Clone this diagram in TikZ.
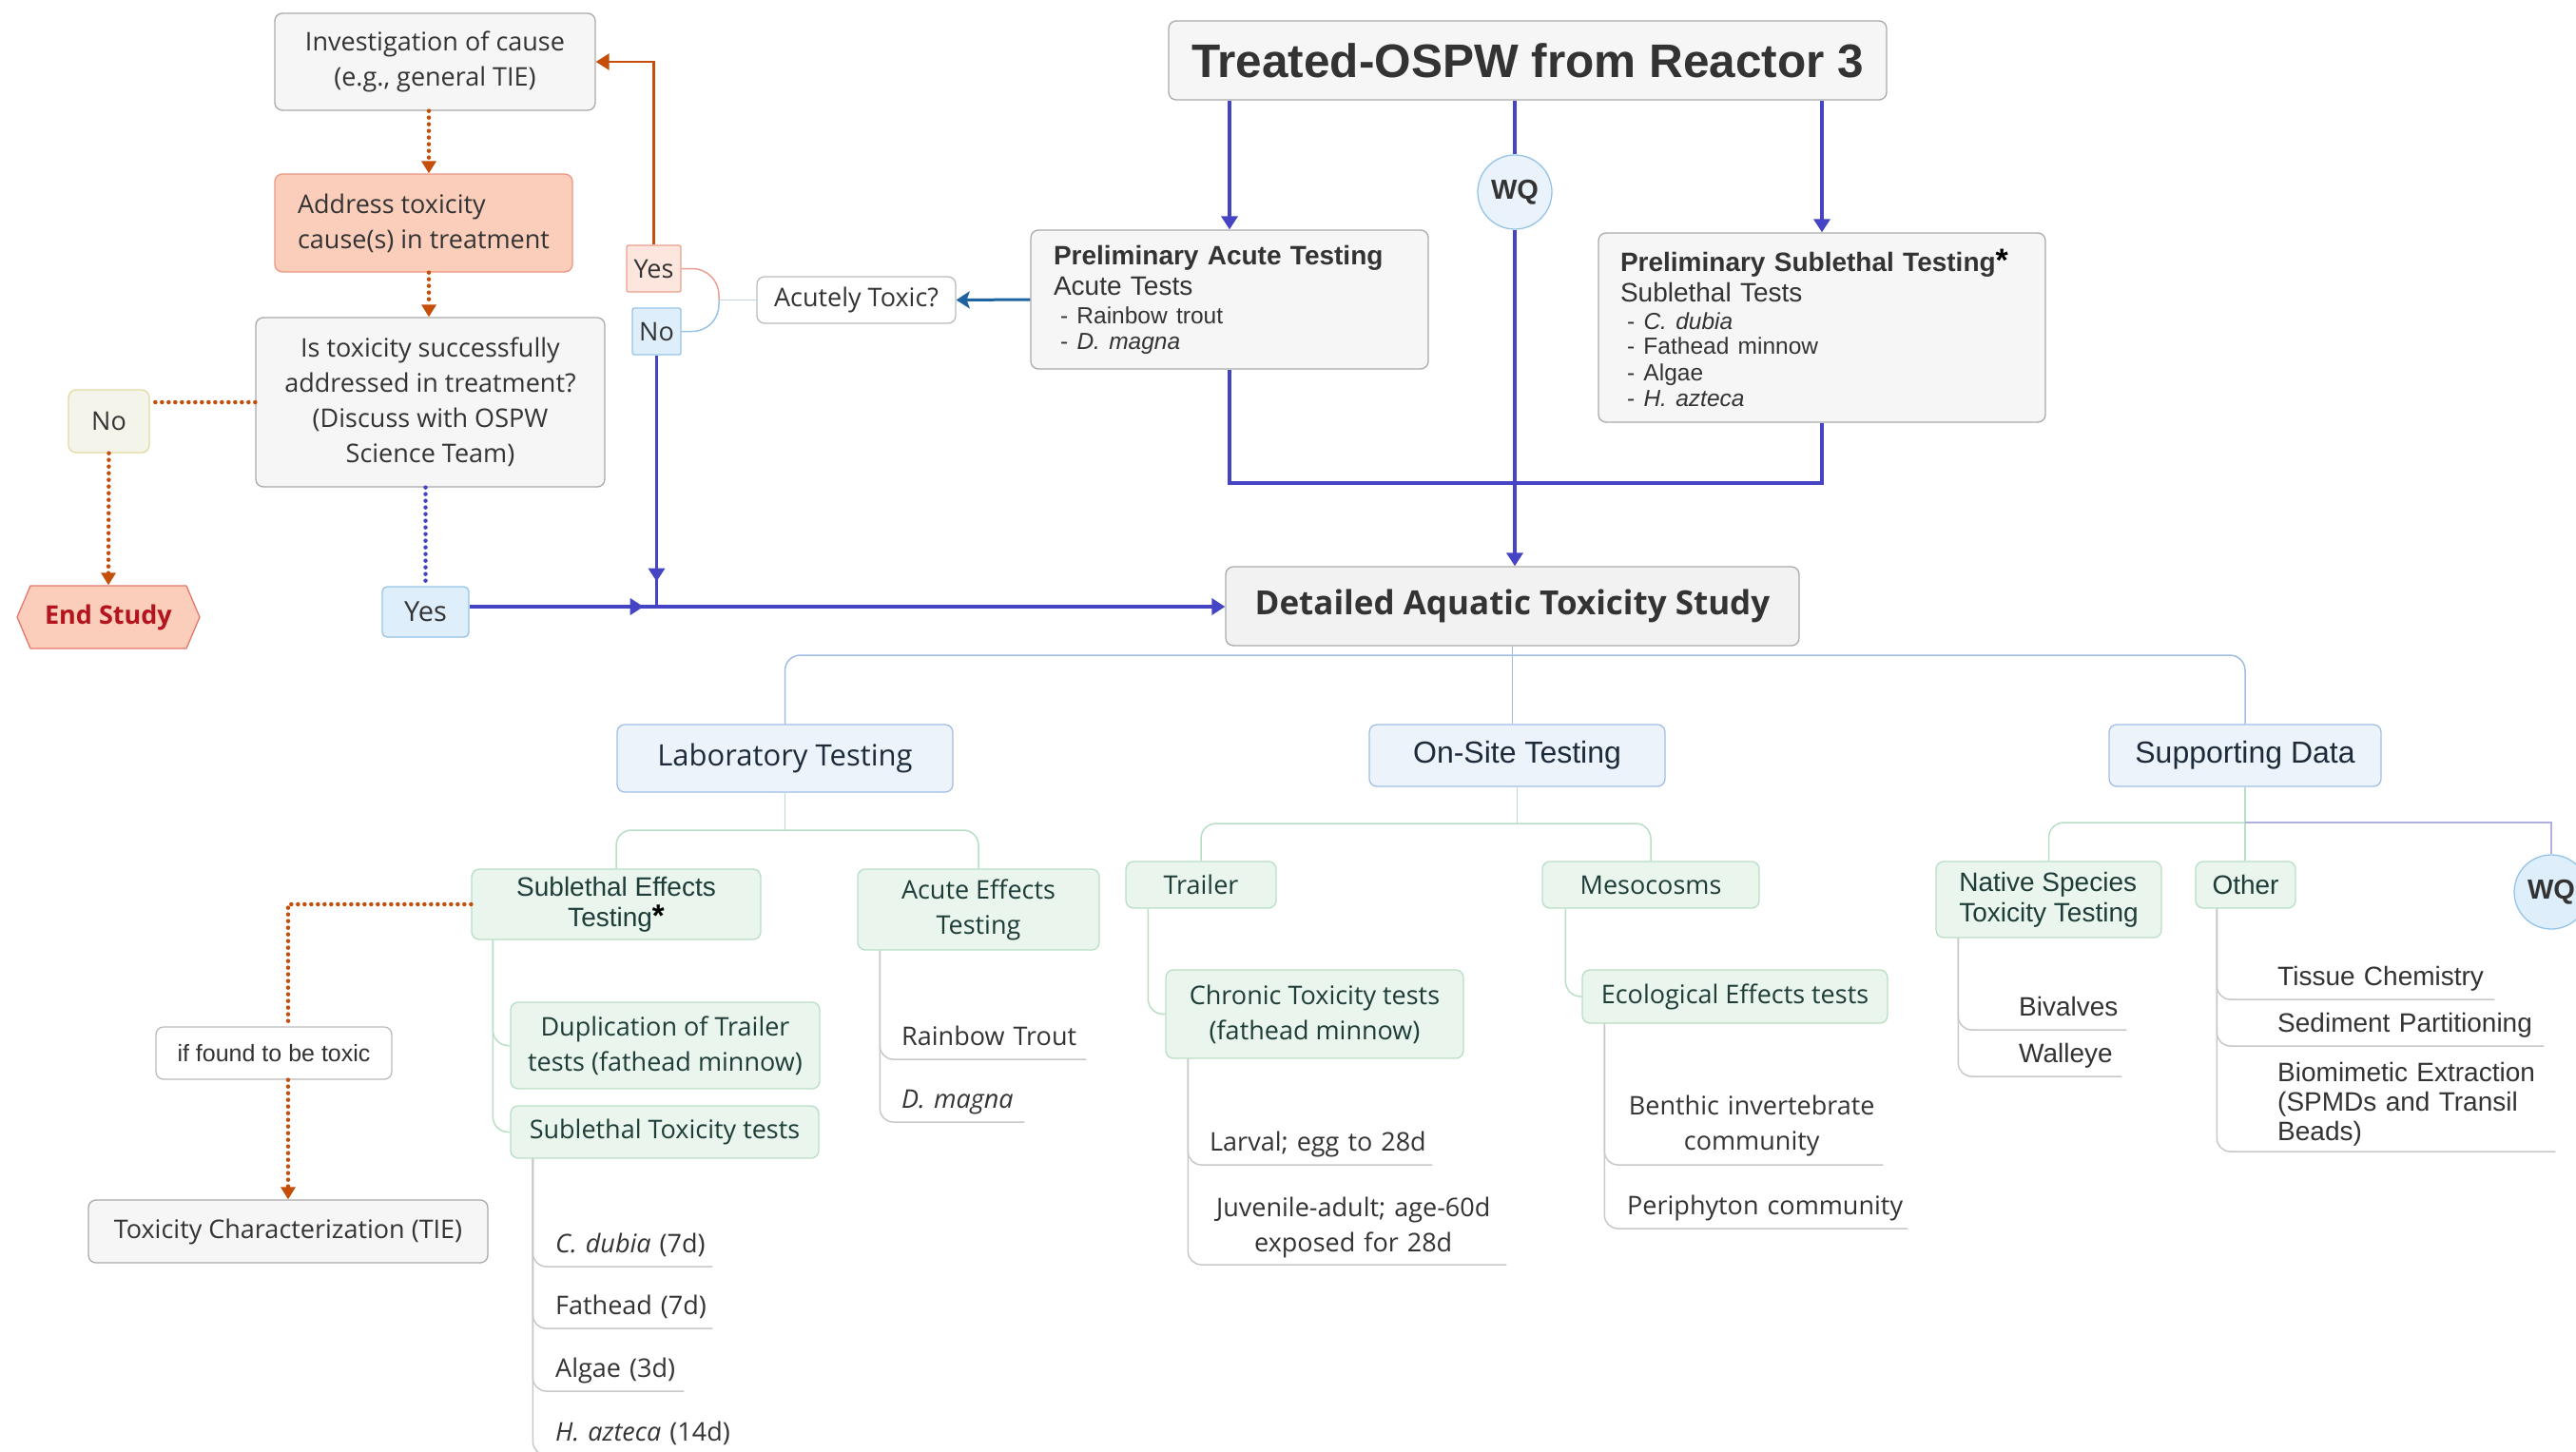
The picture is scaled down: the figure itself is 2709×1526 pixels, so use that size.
\documentclass[tikz,border=0pt]{standalone}
\usepackage{fontspec}
\setmainfont{Open Sans}
\newfontfamily\arialfont{Liberation Sans}
\usetikzlibrary{arrows.meta,shapes.symbols,decorations.markings}

\definecolor{flowblue}{RGB}{68,68,196}
\definecolor{steelblue}{RGB}{31,100,160}
\definecolor{burnt}{RGB}{196,78,10}
\definecolor{inkgray}{RGB}{51,51,51}
\definecolor{boxgray}{RGB}{170,170,170}
\definecolor{fillgray}{RGB}{246,246,246}
\definecolor{salmonfill}{RGB}{250,206,186}
\definecolor{salmonline}{RGB}{236,150,130}
\definecolor{paleblue}{RGB}{237,243,251}
\definecolor{paleblueline}{RGB}{160,190,228}
\definecolor{navyink}{RGB}{28,42,58}
\definecolor{palegreen}{RGB}{233,245,237}
\definecolor{greenline}{RGB}{185,222,198}
\definecolor{greenink}{RGB}{30,60,56}
\definecolor{leafgray}{RGB}{200,200,200}
\definecolor{skyfill}{RGB}{222,238,251}
\definecolor{skyline}{RGB}{150,196,232}
\definecolor{wqfill}{RGB}{234,243,251}
\definecolor{rosefill}{RGB}{253,230,222}
\definecolor{roseline}{RGB}{234,160,145}
\definecolor{creamfill}{RGB}{244,244,234}
\definecolor{creamline}{RGB}{228,218,160}
\definecolor{endred}{RGB}{180,20,30}
\definecolor{endline}{RGB}{228,120,110}
\definecolor{lavender}{RGB}{176,176,224}
\definecolor{forkgray}{RGB}{200,214,230}

\begin{document}
\begin{tikzpicture}[
    x = 1pt,
    y = -1pt,
    >={Triangle[width=15pt,length=13pt]},
    boxsize/.style 2 args = {minimum width=#1pt, minimum height=#2pt},
    txt/.style = {font=\fontsize{27}{37}\selectfont, text=inkgray},
    arial/.style = {font=\arialfont\fontsize{28}{32}\selectfont},
    plainbox/.style = {txt, draw=boxgray, fill=fillgray, rounded corners=8pt,
              line width=1.3pt, align=center, inner sep=0pt},
    causebox/.style = {plainbox, draw=salmonline, fill=salmonfill},
    whitebox/.style = {plainbox, fill=white, draw=boxgray!80},
    skybox/.style = {plainbox, draw=skyline, fill=skyfill, rounded corners=5pt},
    rosebox/.style = {plainbox, draw=roseline, fill=rosefill, rounded corners=2pt},
    creambox/.style = {plainbox, draw=creamline, fill=creamfill},
    prelimbox/.style = {plainbox, arial, align=left},
    branchbox/.style = {plainbox, draw=paleblueline, fill=paleblue, text=navyink,
              font=\fontsize{31}{37}\selectfont},
    subbox/.style = {plainbox, draw=greenline, fill=palegreen, text=greenink},
    endnode/.style = {signal, signal to=east and west, signal pointer angle=134,
              draw=endline, fill=salmonfill, line width=1.3pt, inner sep=0pt,
              minimum width=192pt, minimum height=66pt, text=endred,
              font=\bfseries\fontsize{27}{27}\selectfont},
    wqnode/.style = {circle, draw=skyline, fill=wqfill, line width=1.3pt,
              minimum size=78pt, inner sep=0pt, text=inkgray,
              font=\arialfont\bfseries\fontsize{29}{29}\selectfont},
    leaf/.style = {txt, anchor=south west, inner xsep=0pt, inner ysep=7pt,
              text depth=7pt, align=left},
    flowline/.style = {color=flowblue, line width=3.5pt},
    flowarrow/.style = {flowline, -{Triangle[width=17pt,length=14pt]}},
    midarrow/.style = {flowline, postaction={decorate}, decoration={markings,
              mark=at position #1 with {\arrow{Triangle[width=17pt,length=14pt]}}}},
    burntdots/.style = {color=burnt, line width=4.5pt, line cap=round,
              dash pattern=on 0pt off 7pt},
    bluedots/.style = {burntdots, color=flowblue},
    trunkline/.style = {draw=paleblueline, line width=1.5pt, rounded corners=16pt},
    branchline/.style = {draw=greenline, line width=1.5pt, rounded corners=16pt},
    leafline/.style = {draw=leafgray, line width=1.5pt, rounded corners=14pt},
    ]

\useasboundingbox (0,0) rectangle (2709,1526);

% decision loop on the left
\node[plainbox, boxsize={337}{102}] (box_inv) at (457.5,65) {Investigation of cause\\(e.g., general TIE)};
\node[causebox, boxsize={313}{103}, align=left] (box_addr) at (445.5,234.5) {Address toxicity\\cause(s) in treatment};
\node[plainbox, boxsize={367}{178}] (box_istox) at (452.5,423) {Is toxicity successfully\\addressed in treatment?\\(Discuss with OSPW\\Science Team)};
\node[creambox, boxsize={85}{66}] (dec_no_left) at (114.5,443) {No};
\node[endnode] (box_end) at (114,649) {End Study};
\node[skybox, boxsize={91}{53}, font=\fontsize{29}{29}\selectfont] (dec_yes_low) at (447.5,643.5) {Yes};
\node[rosebox, boxsize={57}{49}] (dec_yes_up) at (687.5,282.5) {Yes};
\node[skybox, boxsize={51}{49}, rounded corners=2pt] (dec_no_up) at (690.5,348.5) {No};
\node[whitebox, boxsize={209}{49}] (q_acute) at (900.5,315.5) {Acutely Toxic?};

% preliminary testing
\node[plainbox, boxsize={755}{83}, font=\arialfont\bfseries\fontsize{49.5}{50}\selectfont] (box_treated) at (1606.5,63.5) {Treated-OSPW from Reactor 3};
\node[wqnode] (wq_top) at (1593,202) {WQ};
\node[prelimbox, boxsize={418}{146}, text width=370pt] (prelim_acute) at (1293,315) {%
  {\bfseries Preliminary Acute Testing}\\
  Acute Tests\\[-2pt]
  {\fontsize{24.5}{28}\selectfont\hspace*{7pt}- Rainbow trout}\\[-5pt]
  {\fontsize{24.5}{28}\selectfont\hspace*{7pt}- \textit{D. magna}}};
\node[prelimbox, boxsize={470}{199}, text width=424pt] (prelim_sub) at (1916,344.5) {%
  {\bfseries Preliminary Sublethal Testing{\color{black}\fontsize{34}{34}\selectfont*}}\\
  Sublethal Tests\\[-3pt]
  {\fontsize{24.5}{28}\selectfont\hspace*{7pt}- \textit{C. dubia}}\\[-6pt]
  {\fontsize{24.5}{28}\selectfont\hspace*{7pt}- Fathead minnow}\\[-4pt]
  {\fontsize{24.5}{28}\selectfont\hspace*{7pt}- Algae}\\[-5pt]
  {\fontsize{24.5}{28}\selectfont\hspace*{7pt}- \textit{H. azteca}}};
\node[plainbox, boxsize={603}{83}, fill=black!5, font=\bfseries\fontsize{35}{35}\selectfont] (box_detail) at (1590.5,637.5) {Detailed Aquatic Toxicity Study};

% detailed study tree
\node[branchbox, boxsize={353}{71}] (br_lab) at (825.5,797.5) {Laboratory Testing};
\node[branchbox, boxsize={311}{65}, font=\arialfont\fontsize{32}{32}\selectfont] (br_onsite) at (1595.5,794.5) {On-Site Testing};
\node[branchbox, boxsize={286}{65}, font=\arialfont\fontsize{32}{32}\selectfont] (br_support) at (2361,794.5) {Supporting Data};

\node[subbox, arial, boxsize={304}{74}] (sub_sublethal) at (648,951) {Sublethal Effects\\Testing{\color{black}\bfseries\fontsize{33}{32}\selectfont*}};
\node[subbox, boxsize={254}{85}] (sub_acute) at (1029,956.5) {Acute Effects\\Testing};
\node[subbox, boxsize={325}{91}] (sub_dup) at (699.5,1099.5) {Duplication of Trailer\\tests (fathead minnow)};
\node[subbox, boxsize={324}{55}] (sub_tox) at (699,1190.5) {Sublethal Toxicity tests};
\node[subbox, boxsize={158}{49}] (sub_trailer) at (1263,930.5) {Trailer};
\node[subbox, boxsize={228}{49}] (sub_meso) at (1736,930.5) {Mesocosms};
\node[subbox, boxsize={313}{93}] (sub_chronic) at (1382.5,1066.5) {Chronic Toxicity tests\\(fathead minnow)};
\node[subbox, boxsize={321}{56}] (sub_eco) at (1824.5,1048) {Ecological Effects tests};
\node[subbox, arial, boxsize={237}{80}, align=left] (sub_native) at (2154.5,946) {Native Species\\Toxicity Testing};
\node[subbox, arial, boxsize={105}{49}] (sub_other) at (2361.5,930.5) {Other};
\node[wqnode, fill=skyfill] (wq_side) at (2683,938) {WQ};

\node[whitebox, boxsize={248}{55}, font=\arialfont\fontsize{25}{25}\selectfont] (note_toxic) at (288,1107.5) {if found to be toxic};
\node[plainbox, boxsize={420}{66}] (box_tie) at (303,1295) {Toxicity Characterization (TIE)};

\node[leaf, text width=165pt] (leaf_cdubia) at (584,1332) {\textit{C. dubia} (7d)};
\node[leaf, text width=165pt] (leaf_fathead) at (584,1397) {Fathead (7d)};
\node[leaf, text width=135pt] (leaf_algae) at (584,1463) {Algae (3d)};
\node[leaf, text width=196pt] (leaf_hazteca) at (584,1530) {\textit{H. azteca} (14d)};
\node[leaf, text width=194pt] (leaf_trout) at (948,1114) {Rainbow Trout};
\node[leaf, text width=129pt] (leaf_magna) at (948,1180) {\textit{D. magna}};
\node[leaf, text width=234pt] (leaf_larval) at (1272,1225) {Larval; egg to 28d};
\node[leaf, text width=322pt, align=center, text depth=43pt] (leaf_juvenile) at (1262,1330) {Juvenile-adult; age-60d\\exposed for 28d};
\node[leaf, text width=276pt, align=center, text depth=45pt] (leaf_benthic) at (1704,1225) {Benthic invertebrate\\community};
\node[leaf, text width=295pt] (leaf_periphyton) at (1711,1292) {Periphyton community};
\node[leaf, arial, text width=113pt] (leaf_bivalves) at (2123,1083) {Bivalves};
\node[leaf, arial, text width=108pt] (leaf_walleye) at (2123,1132) {Walleye};
\node[leaf, arial, text width=228pt] (leaf_tissue) at (2395,1051) {Tissue Chemistry};
\node[leaf, arial, text width=280pt] (leaf_sediment) at (2395,1100) {Sediment Partitioning};
\node[leaf, text width=292pt, text depth=66pt, font=\arialfont\fontsize{28}{31}\selectfont] (leaf_biomimetic) at (2395,1211) {Biomimetic Extraction\\(SPMDs and Transil\\Beads)};

% connectors, upper part
\coordinate (stem) at (451,0);
\coordinate (fork) at (756,315.5);
\coordinate (join) at (690.5,638);
\coordinate (merge) at (1591,508);

\draw [flowarrow] (box_treated.south -| prelim_acute.north) -- (prelim_acute.north);
\draw [flowarrow] (box_treated.south -| prelim_sub.north) -- (prelim_sub.north);
\draw [flowline] (box_treated.south -| wq_top.north) -- (wq_top.north);
\draw [flowline] (prelim_acute.south) |- (merge) -| (prelim_sub.south);
\draw [flowarrow] (wq_top.south) -- (wq_top.south |- box_detail.north);
\draw [steelblue, line width=3pt, -{Stealth[width=18pt,length=14pt,inset=3pt]}] (prelim_acute.west) -- (q_acute.east);

\draw [forkgray, line width=1.5pt] (q_acute.west) -- (fork);
\draw [roseline, line width=1.5pt, rounded corners=28pt] (fork) |- (dec_yes_up.east);
\draw [skyline, line width=1.5pt, rounded corners=28pt] (fork) |- (dec_no_up.east);
\draw [burnt, line width=2.5pt, -{Triangle[width=17pt,length=14pt]}] (dec_yes_up.north) |- (box_inv.east);
\draw [midarrow=0.9] (dec_no_up.south) -- (dec_no_up.south |- join);
\draw [midarrow=0.93] (dec_yes_low.east |- join) -- (join);
\draw [flowarrow, line width=4.5pt] (join) -- (box_detail.west |- join);

\draw [burntdots, ->] (box_inv.south -| stem) -- (box_addr.north -| stem);
\draw [burntdots, ->] (box_addr.south -| stem) -- (box_istox.north -| stem);
\draw [burntdots] (box_istox.west) -- (box_istox.west -| dec_no_left.east);
\draw [burntdots, ->] (dec_no_left.south) -- (box_end.north);
\draw [bluedots] (box_istox.south -| dec_yes_low.north) -- (dec_yes_low.north);
\draw [burntdots] (sub_sublethal.west) -| (note_toxic.north -| box_tie.north);
\draw [burntdots, ->] (note_toxic.south -| box_tie.north) -- (box_tie.north);

% tree connectors
\coordinate (hub_main) at (1591,689);
\coordinate (hub_lab) at (825.5,873);
\coordinate (hub_onsite) at (1595.5,866);
\coordinate (hub_support) at (2361,865);

\draw [trunkline] (box_detail.south) -- (br_onsite.north -| box_detail.south);
\draw [trunkline] (br_lab.north) |- (hub_main) -| (br_support.north);
\draw [branchline] (br_lab.south) -- (hub_lab);
\draw [branchline] (sub_sublethal.north) |- (hub_lab) -| (sub_acute.north);
\draw [branchline] (br_onsite.south) -- (hub_onsite);
\draw [branchline] (sub_trailer.north) |- (hub_onsite) -| (sub_meso.north);
\draw [branchline] (br_support.south) -- (sub_other.north -| br_support.south);
\draw [branchline] (sub_native.north) |- (hub_support);
\draw [lavender, line width=1.5pt] (hub_support) -| (wq_side.north);

\draw [branchline] ([xshift=23pt]sub_sublethal.south west) |- (sub_dup.west);
\draw [branchline] ([xshift=23pt]sub_sublethal.south west) |- (sub_tox.west);
\draw [branchline] ([xshift=24pt]sub_trailer.south west) |- (sub_chronic.west);
\draw [branchline] ([xshift=25pt]sub_meso.south west) |- (sub_eco.west);

\draw [leafline] ([xshift=24pt]sub_tox.south west) |- (leaf_cdubia.south east);
\draw [leafline] ([xshift=24pt]sub_tox.south west) |- (leaf_fathead.south east);
\draw [leafline] ([xshift=24pt]sub_tox.south west) |- (leaf_algae.south east);
\draw [leafline] ([xshift=24pt]sub_tox.south west) |- (leaf_hazteca.south east);
\draw [leafline] ([xshift=24pt]sub_acute.south west) |- (leaf_trout.south east);
\draw [leafline] ([xshift=24pt]sub_acute.south west) |- (leaf_magna.south east);
\draw [leafline] ([xshift=24pt]sub_chronic.south west) |- (leaf_larval.south east);
\draw [leafline] ([xshift=24pt]sub_chronic.south west) |- (leaf_juvenile.south east);
\draw [leafline] ([xshift=24pt]sub_eco.south west) |- (leaf_benthic.south east);
\draw [leafline] ([xshift=24pt]sub_eco.south west) |- (leaf_periphyton.south east);
\draw [leafline] ([xshift=24pt]sub_native.south west) |- (leaf_bivalves.south east);
\draw [leafline] ([xshift=24pt]sub_native.south west) |- (leaf_walleye.south east);
\draw [leafline] ([xshift=23pt]sub_other.south west) |- (leaf_tissue.south east);
\draw [leafline] ([xshift=23pt]sub_other.south west) |- (leaf_sediment.south east);
\draw [leafline] ([xshift=23pt]sub_other.south west) |- (leaf_biomimetic.south east);

\end{tikzpicture}
\end{document}
